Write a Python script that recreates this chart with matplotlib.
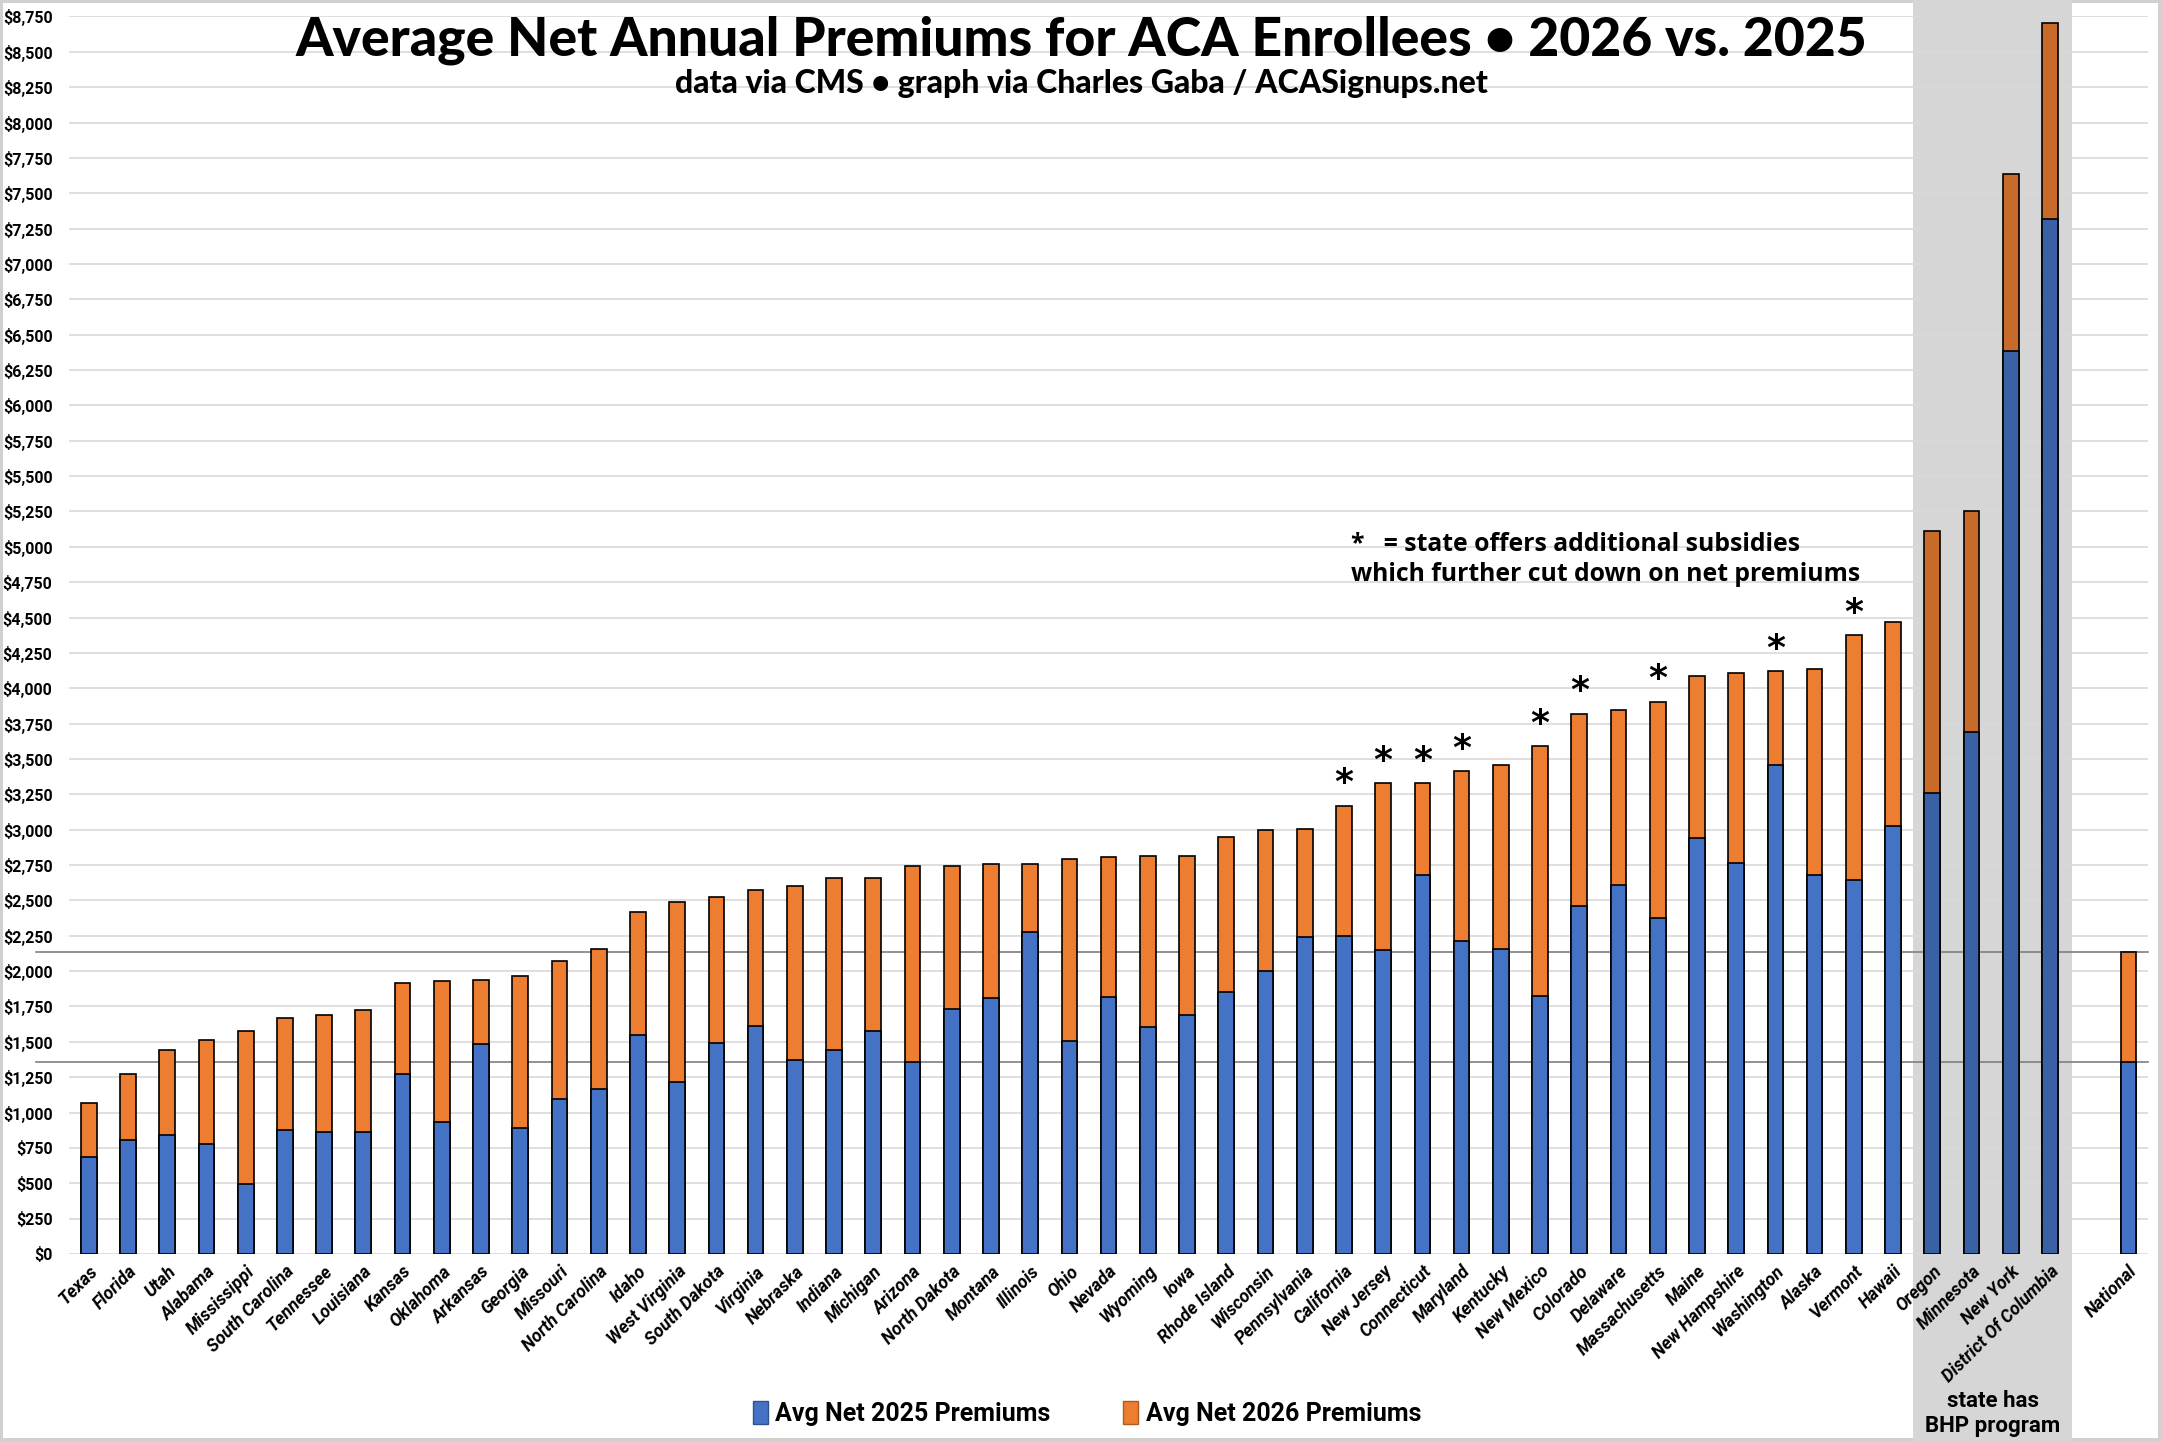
import matplotlib
matplotlib.use('Agg')
import matplotlib.pyplot as plt
import matplotlib.transforms as mtransforms
from matplotlib.patches import Patch, Rectangle
from matplotlib.ticker import MultipleLocator, FuncFormatter
import numpy as np

# States sorted by 2026 net premium, plus national average at the end
states = ['Texas', 'Florida', 'Utah', 'Alabama', 'Mississippi', 'South Carolina',
          'Tennessee', 'Louisiana', 'Kansas', 'Oklahoma', 'Arkansas', 'Georgia',
          'Missouri', 'North Carolina', 'Idaho', 'West Virginia', 'South Dakota',
          'Virginia', 'Nebraska', 'Indiana', 'Michigan', 'Arizona', 'North Dakota',
          'Montana', 'Illinois', 'Ohio', 'Nevada', 'Wyoming', 'Iowa', 'Rhode Island',
          'Wisconsin', 'Pennsylvania', 'California', 'New Jersey', 'Connecticut',
          'Maryland', 'Kentucky', 'New Mexico', 'Colorado', 'Delaware',
          'Massachusetts', 'Maine', 'New Hampshire', 'Washington', 'Alaska',
          'Vermont', 'Hawaii', 'Oregon', 'Minnesota', 'New York',
          'District Of Columbia']

prem_2025 = [683, 803, 838, 775, 492, 874, 859, 859, 1269, 930, 1488, 888, 1093,
             1163, 1545, 1213, 1495, 1615, 1368, 1439, 1573, 1354, 1733, 1813,
             2279, 1509, 1820, 1608, 1693, 1855, 2004, 2244, 2246, 2146, 2677,
             2210, 2159, 1821, 2459, 2607, 2374, 2942, 2765, 3456, 2677, 2642,
             3027, 3262, 3690, 6387, 7320]

prem_2026 = [1064, 1269, 1439, 1512, 1575, 1665, 1693, 1728, 1919, 1933, 1940,
             1968, 2074, 2159, 2420, 2491, 2526, 2576, 2604, 2661, 2661, 2745,
             2745, 2760, 2760, 2795, 2809, 2816, 2816, 2950, 3000, 3007, 3170,
             3327, 3327, 3412, 3456, 3589, 3819, 3845, 3902, 4088, 4107, 4119,
             4135, 4375, 4467, 5115, 5251, 7635, 8702]

national_2025 = 1354
national_2026 = 2132

# states with additional state subsidies (marked with *)
extra_subsidy = ['California', 'New Jersey', 'Connecticut', 'Maryland', 'New Mexico',
                 'Colorado', 'Massachusetts', 'Washington', 'Vermont']
# states with a Basic Health Program (shaded)
bhp_states = ['Oregon', 'Minnesota', 'New York', 'District Of Columbia']

BLUE = '#4472C4'
ORANGE = '#ED7D31'
BLUE_DK = '#3A60A6'
ORANGE_DK = '#C86A2A'
BAND = '#D6D6D6'

narrow = ['Roboto', 'DejaVu Sans']

labels = states + ['', 'National']
x = np.arange(len(labels))
v25 = prem_2025 + [np.nan, national_2025]
v26 = prem_2026 + [np.nan, national_2026]
in_band = [s in bhp_states for s in labels]

fig = plt.figure(figsize=(21.61, 14.41), dpi=100)
fig.patch.set_facecolor('white')
fig.patch.set_edgecolor('#D0D0D0')
fig.patch.set_linewidth(3)
ax = fig.add_axes([0.032, 0.1298, 0.962, 0.8588])
ax.set_facecolor('none')

c26 = [ORANGE_DK if b else ORANGE for b in in_band]
c25 = [BLUE_DK if b else BLUE for b in in_band]
ax.bar(x, v26, width=0.4, color=c26, edgecolor='black', linewidth=1.2, zorder=3)
ax.bar(x, v25, width=0.4, color=c25, edgecolor='black', linewidth=1.2, zorder=4)

# national reference lines
for val in (national_2026, national_2025):
    ax.axhline(val, xmin=-0.016, xmax=1, color='#7F7F7F', linewidth=1.2,
               zorder=2, clip_on=False)

# asterisks
for i, s in enumerate(states):
    if s in extra_subsidy:
        ax.text(i, prem_2026[i] + 40, '*', ha='center', va='bottom',
                fontsize=26, fontweight='bold', zorder=5)

ax.set_xlim(-0.5, 52.5)
ax.set_ylim(0, 8750)
ax.yaxis.set_major_locator(MultipleLocator(250))
ax.yaxis.set_major_formatter(FuncFormatter(lambda v, p: '${:,.0f}'.format(v)))
ax.grid(axis='y', color='#D9D9D9', linewidth=1.2, zorder=0)
ax.set_axisbelow(True)
for sp in ax.spines.values():
    sp.set_visible(False)
ax.tick_params(axis='both', length=0)
ax.tick_params(axis='y', pad=12)
for t in ax.get_yticklabels():
    t.set_family(narrow)
    t.set_fontweight('bold')
    t.set_fontsize(11.5)
ax.set_xticks(x)
ax.set_xticklabels(labels, rotation=45, ha='right', rotation_mode='anchor',
                   fontsize=12.8, fontweight='bold', fontstyle='italic', family=narrow)
ax.tick_params(axis='x', pad=6)

# shaded band for BHP states, spanning the whole figure height
band_tr = mtransforms.blended_transform_factory(ax.transData, fig.transFigure)
fig.patches.append(Rectangle((46.5, 0), 4.05, 1, transform=band_tr,
                             facecolor=BAND, edgecolor='none', zorder=-1))
fig.text(48.55, 0.028, 'state has', transform=band_tr, ha='center', va='center',
         fontsize=16, fontweight='bold', family=narrow)
fig.text(48.55, 0.0105, 'BHP program', transform=band_tr, ha='center', va='center',
         fontsize=16, fontweight='bold', family=narrow)

fig.text(0.5006, 0.972, 'Average Net Annual Premiums for ACA Enrollees \u2022 2026 vs. 2025',
         ha='center', va='center', fontsize=38.5, fontweight='black', family=['Lato', 'DejaVu Sans'])
fig.text(0.5006, 0.942, 'data via CMS \u2022 graph via Charles Gaba / ACASignups.net',
         ha='center', va='center', fontsize=23, fontweight='black', family=['Lato', 'DejaVu Sans'])

fig.text(0.625, 0.622, '*   = state offers additional subsidies', ha='left', va='center',
         fontsize=17.8, fontweight='bold', family=['Open Sans', 'DejaVu Sans'])
fig.text(0.625, 0.601, 'which further cut down on net premiums', ha='left', va='center',
         fontsize=17.8, fontweight='bold', family=['Open Sans', 'DejaVu Sans'])

handles = [Patch(facecolor=BLUE, edgecolor='#2F528F'),
           Patch(facecolor=ORANGE, edgecolor='#AE5A21')]
fig.legend(handles, ['Avg Net 2025 Premiums', 'Avg Net 2026 Premiums'],
           loc='center', bbox_to_anchor=(0.503, 0.019), ncol=2, frameon=False,
           prop={'family': narrow, 'weight': 'bold', 'size': 18},
           handlelength=0.6, handleheight=1.0, handletextpad=0.3, columnspacing=2.9)

fig.savefig('out.png', dpi=100)
